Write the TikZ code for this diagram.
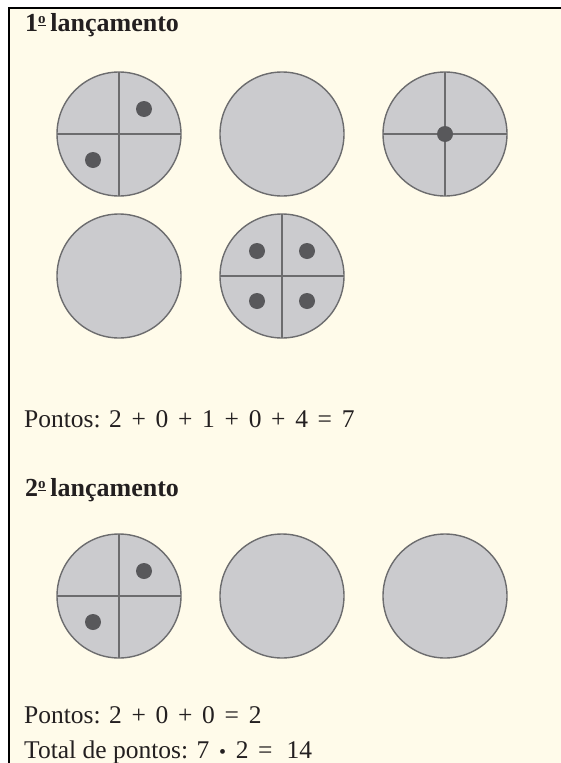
\documentclass[tikz,border=0pt]{standalone}
\usepackage{fontspec}
\setmainfont{Liberation Serif}
\usetikzlibrary{positioning,calc}
\definecolor{cream}{RGB}{255,251,234}
\definecolor{discgray}{RGB}{203,203,206}
\definecolor{rimgray}{RGB}{108,108,110}
\definecolor{pipgray}{RGB}{88,88,91}
\definecolor{inkdark}{RGB}{35,31,32}
\tikzset{
    disc/.style={
        circle,
        draw=rimgray,
        line width=1.4pt,
        fill=discgray,
        minimum size=124pt,
        inner sep=0pt,
        outer sep=0pt
    },
    divider/.style={
        draw=rimgray,
        line width=2pt
    },
    pip/.style={
        circle,
        fill=pipgray,
        minimum size=16pt,
        inner sep=0pt
    },
    heading/.style={
        anchor=base west,
        inner sep=0pt,
        text=inkdark,
        font=\fontsize{26}{30}\selectfont\bfseries
    },
    caption/.style={
        anchor=base west,
        inner sep=0pt,
        text=inkdark,
        font=\fontsize{25.5}{30}\selectfont
    }
}
\newcommand{\op}[1]{\hspace{0.38em}#1\hspace{0.38em}}
\newcommand{\ordo}{\raisebox{0.3em}{\fontsize{15}{15}\selectfont\underline{o}}\hspace{0.18em}}

\begin{document}
\begin{tikzpicture}[x=1pt, y=-1pt]
\useasboundingbox (0,0) rectangle (561,763);
% frame
\fill[cream] (9,8) rectangle (561,763);
\draw[black, line width=2pt] (9,763) -- (9,8) -- (561,8);

% 1st throw
\node[heading] (head1) at (25,31) {1\ordo lançamento};

\node[disc] (d1) at (119,134) {};
\node[disc] (d2) at (282,134) {};
\node[disc] (d3) at (445,134) {};
\node[disc] (d4) at (119,276) {};
\node[disc] (d5) at (282,276) {};

\foreach \d in {d1,d3,d5}{
    \draw[divider] (\d.north) -- (\d.south);
    \draw[divider] (\d.west) -- (\d.east);
}

\node[pip] (p1a) at ($(d1)+(25,-25)$) {};
\node[pip] (p1b) at ($(d1)+(-26,26)$) {};
\node[pip] (p3) at (d3) {};
\node[pip] (p5a) at ($(d5)+(-25,-25)$) {};
\node[pip] (p5b) at ($(d5)+(25,-25)$) {};
\node[pip] (p5c) at ($(d5)+(-25,25)$) {};
\node[pip] (p5d) at ($(d5)+(25,25)$) {};

\node[caption] (sum1) at (24,427) {Pontos: 2\op{+}0\op{+}1\op{+}0\op{+}4\op{=}7};

% 2nd throw
\node[heading] (head2) at (25,496) {2\ordo lançamento};

\node[disc] (d6) at (119,596) {};
\node[disc] (d7) at (282,596) {};
\node[disc] (d8) at (445,596) {};

\draw[divider] (d6.north) -- (d6.south);
\draw[divider] (d6.west) -- (d6.east);
\node[pip] (p6a) at ($(d6)+(25,-25)$) {};
\node[pip] (p6b) at ($(d6)+(-26,26)$) {};

\node[caption] (sum2) at (24,723) {Pontos: 2\op{+}0\op{+}0\op{=}2};
\node[caption] (total) at (24,758) {Total de pontos: 7\op{{\fontsize{20}{20}\selectfont •}}2\op{=}\,14};
\end{tikzpicture}
\end{document}
